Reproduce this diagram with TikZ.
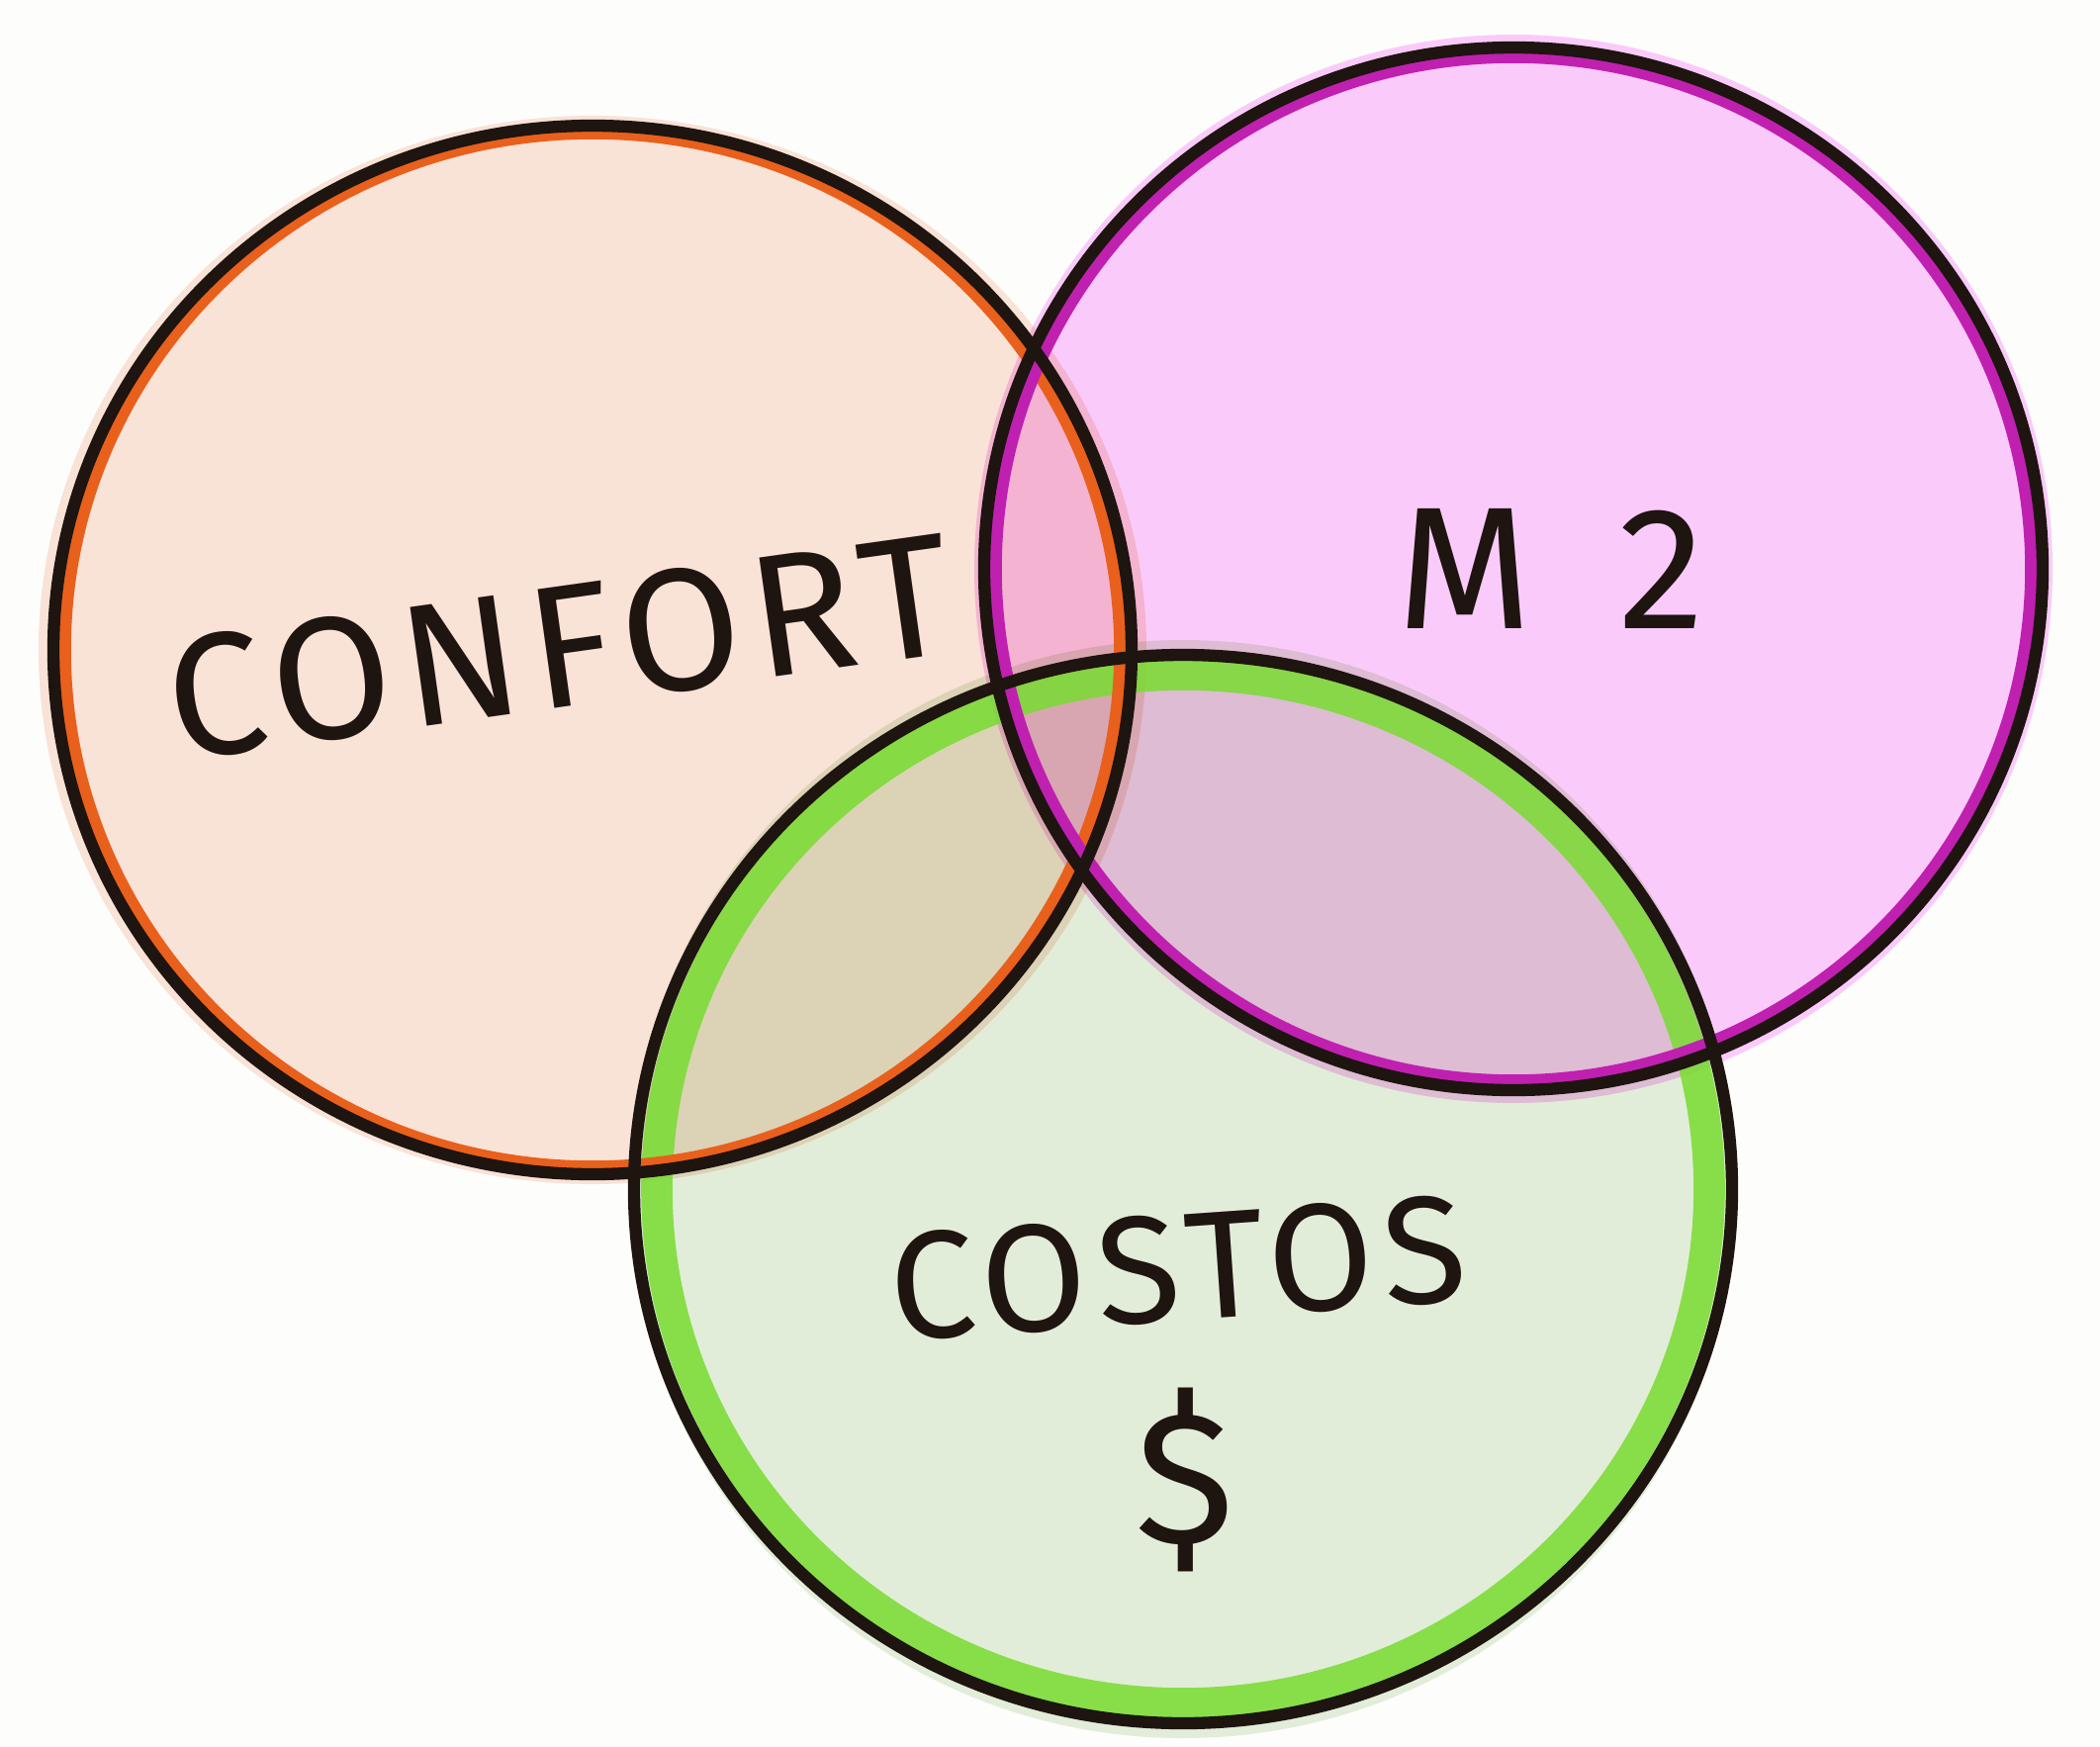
\documentclass[tikz,border=0pt]{standalone}
\usepackage{fontspec}
\setmainfont{Fira Sans}[LetterSpace=6]
\definecolor{bgc}{HTML}{FDFDFB}
\definecolor{peach}{HTML}{F9E2D6}
\definecolor{pinkf}{HTML}{FACBFA}
\definecolor{greenf}{HTML}{E2EDD9}
\definecolor{orangel}{HTML}{E8601C}
\definecolor{magental}{HTML}{C020B0}
\definecolor{greenl}{HTML}{78DC30}
\definecolor{ink}{HTML}{1E1410}
\tikzset{
  fillc/.style={fill=#1, blend mode=multiply},
  band/.style={draw=#1, line width=9pt, opacity=0.85},
  inkline/.style={draw=ink, line width=3.5pt},
  lbl/.style={text=ink, font=\fontsize{50}{52}\selectfont}
}
\begin{document}
\begin{tikzpicture}[x=0.01cm,y=-0.01cm]
\fill[bgc] (0,0) rectangle (2123,1766);
\useasboundingbox (0,0) rectangle (2123,1766);
% centres
\coordinate (cL) at (599,657);
\coordinate (cR) at (1530,575);
\coordinate (cB) at (1196,1202);
% fills
\begin{scope}[transparency group]
\fill[fillc=peach] (cL) ellipse [x radius=560, y radius=540];
\fill[fillc=pinkf] (cR) ellipse [x radius=545, y radius=540];
\fill[fillc=greenf] (cB) ellipse [x radius=560, y radius=555];
\end{scope}
% colored bands
\draw[band=greenl] (cB) ellipse [x radius=532, y radius=520];
\draw[draw=orangel, line width=5pt] (cL) ellipse [x radius=536, y radius=525];
\draw[draw=magental, line width=5pt] (cR) ellipse [x radius=526, y radius=520];
% ink outlines
\draw[inkline] (cL) ellipse [x radius=545, y radius=530];
\draw[inkline] (cR) ellipse [x radius=535, y radius=527];
\draw[inkline] (cB) ellipse [x radius=555, y radius=540];
% labels
\node[lbl, rotate=8] (confort) at (566,654) {CONFORT};
\node[lbl] (m2) at (1568,575) {M\hspace{0.5em}2};
\node[lbl, rotate=4, font=\fontsize{44}{46}\selectfont] (costos) at (1191,1282) {COSTOS};
\node[lbl, font=\fontsize{54}{56}\selectfont] (dollar) at (1198,1496) {\$};
\end{tikzpicture}
\end{document}
